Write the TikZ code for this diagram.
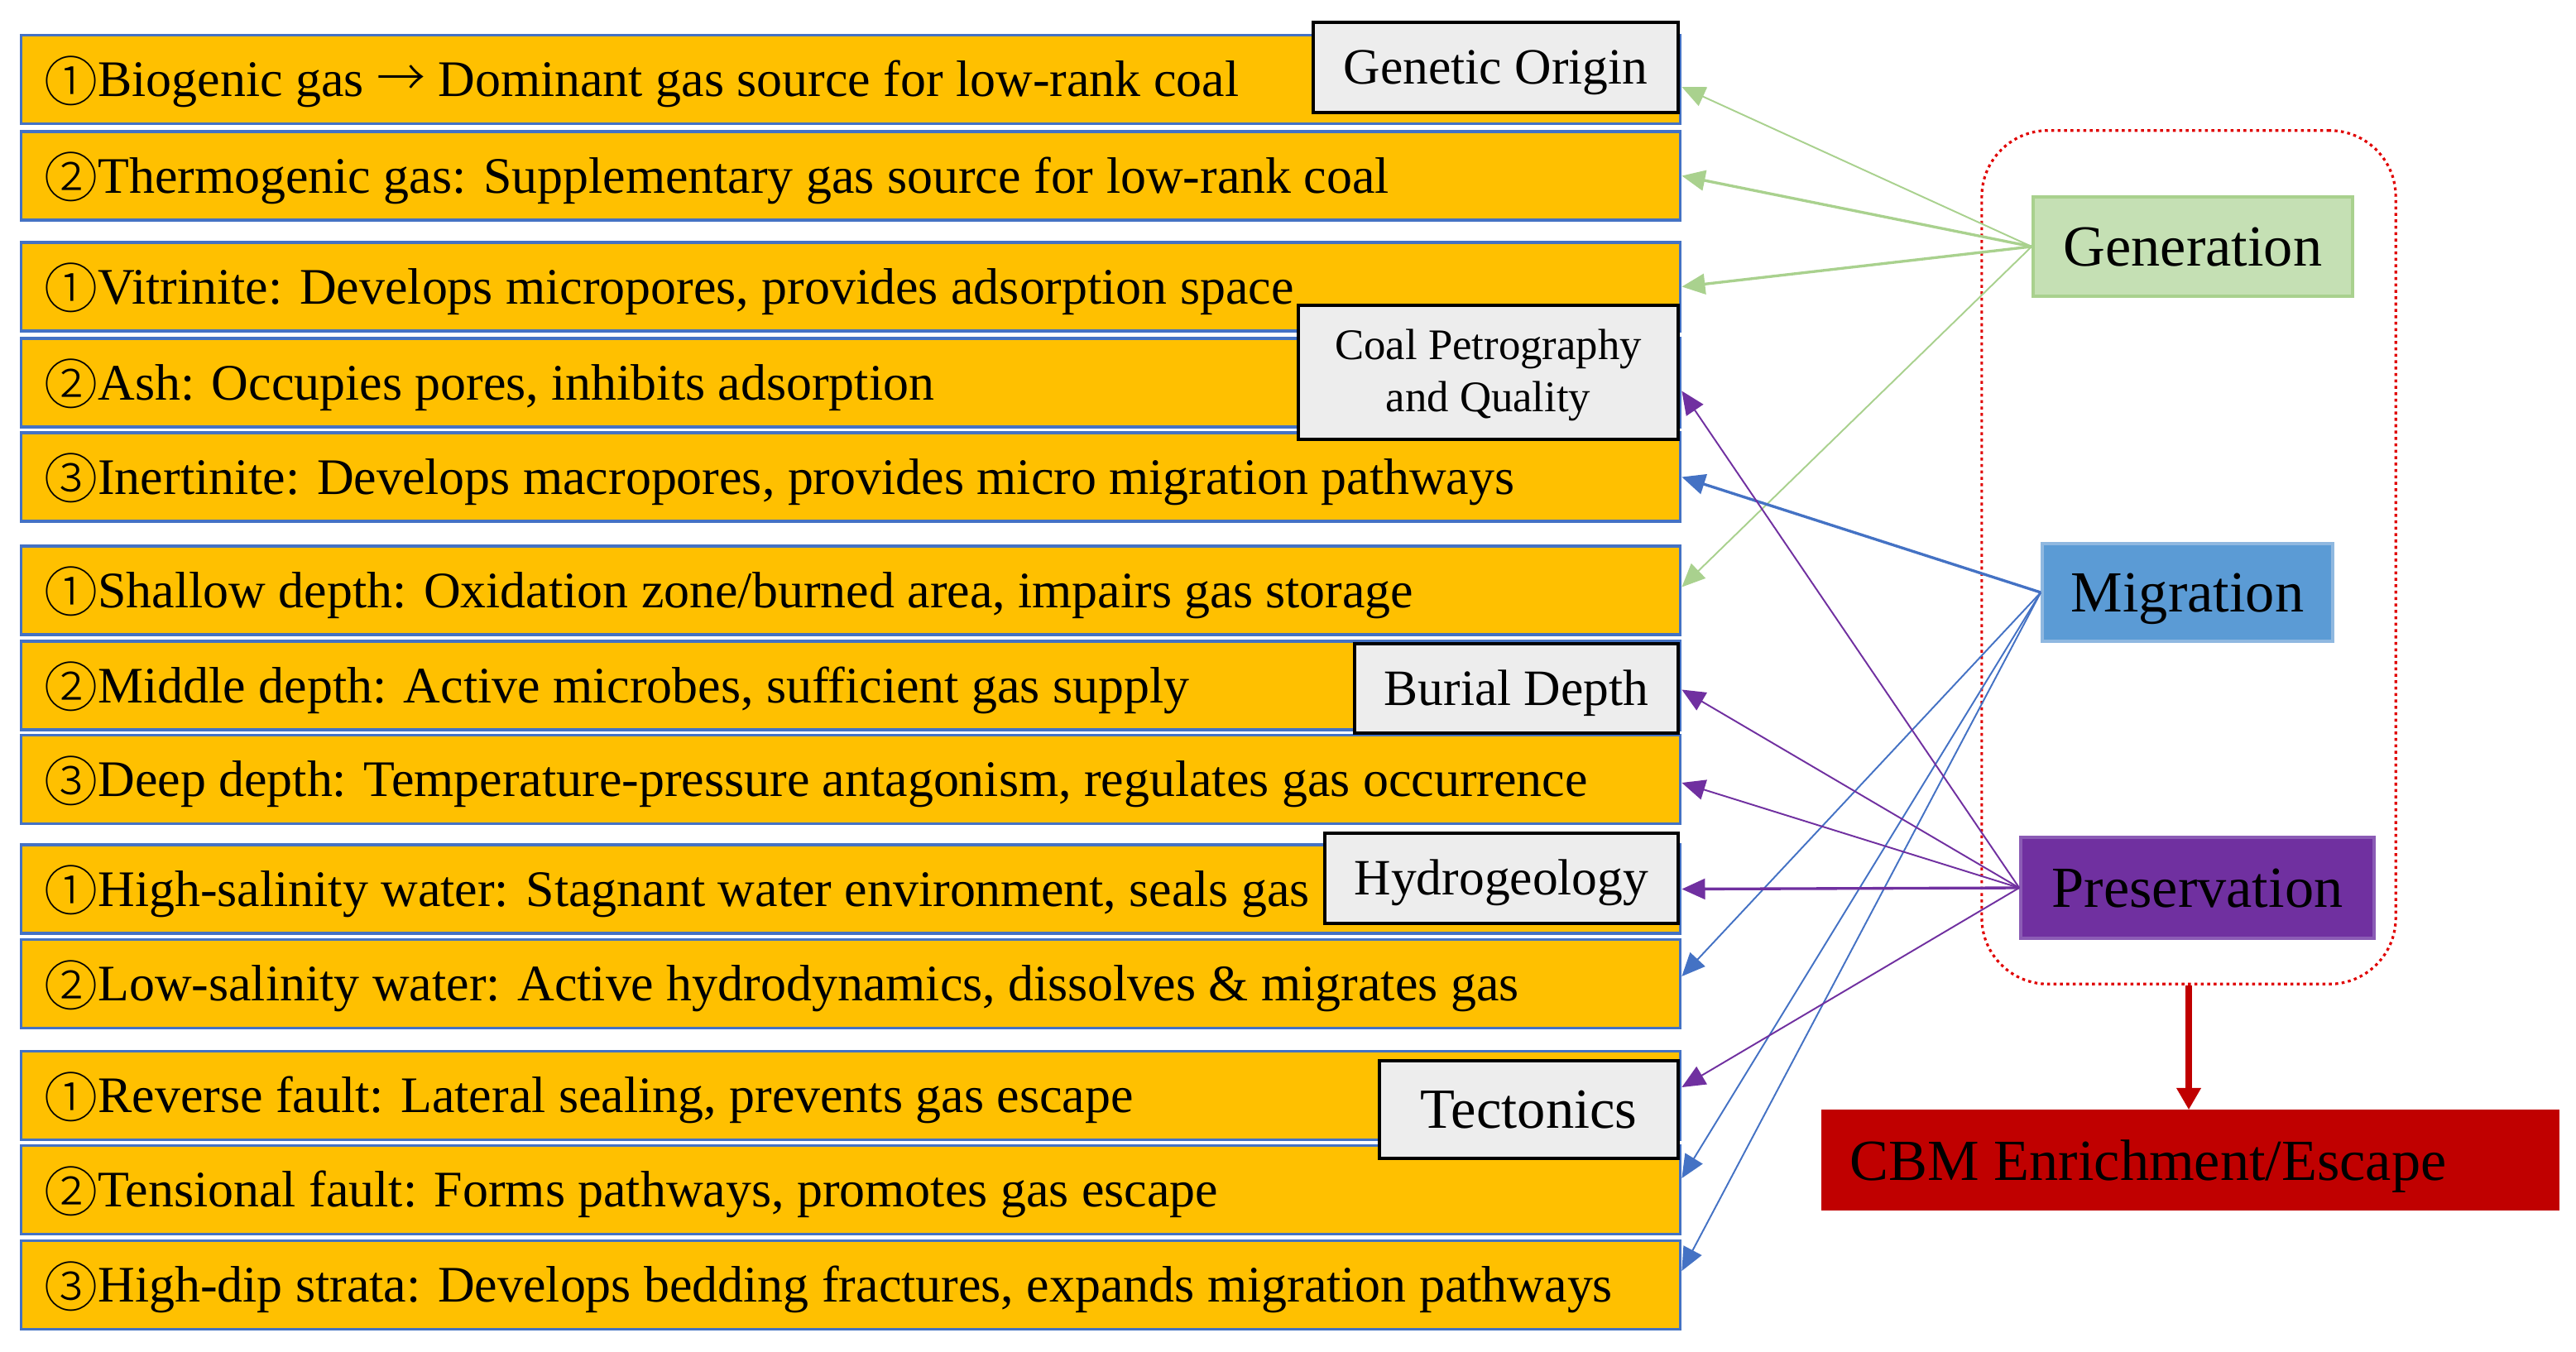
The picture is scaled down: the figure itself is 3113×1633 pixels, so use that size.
\documentclass[tikz,border=0pt]{standalone}
\usepackage{fontspec}
\usepackage{graphicx}
\setmainfont{Liberation Serif}
\newfontfamily\dejavu{DejaVu Sans}
\newfontfamily\cjk{Noto Sans CJK SC Light}
\usetikzlibrary{arrows.meta}
\definecolor{gold}{HTML}{FFC000}
\definecolor{boxblue}{HTML}{4472C4}
\definecolor{taggray}{HTML}{EDEDED}
\definecolor{arrgreen}{HTML}{A9D18E}
\definecolor{genfill}{HTML}{C5E0B4}
\definecolor{migfill}{HTML}{5B9BD5}
\definecolor{migline}{HTML}{8FB8E0}
\definecolor{presfill}{HTML}{7030A0}
\definecolor{presline}{HTML}{8B5BB5}
\definecolor{cbmred}{HTML}{C00000}
\definecolor{grpred}{HTML}{E00000}
\newcommand{\circnum}[1]{\raisebox{-0.09em}{\scalebox{1.05}{\cjk #1}}}
\newcommand{\longarrow}{\scalebox{0.95}[1]{\cjk →}}
\begin{document}
\begin{tikzpicture}[x=0.01cm,y=-0.01cm,
  factor/.style={draw=boxblue, line width=1pt, fill=gold, minimum width=20.04cm, minimum height=1.07cm, inner sep=0pt},
  ftext/.style={anchor=base west, inner sep=0pt, font=\fontsize{17.6}{21}\selectfont},
  tagbox/.style={draw=black, line width=1.1pt, fill=taggray, inner sep=0pt, align=center},
  tagtext/.style={inner sep=0pt, anchor=base, font=\fontsize{15}{18}\selectfont},
  mainbox/.style={inner sep=0pt, line width=1pt, text height=17.2pt, text depth=4pt, font=\fontsize{20}{24}\selectfont},
  tip/.style={-{Triangle[length=8pt,width=7pt]}},
  garrow/.style={tip, draw=arrgreen, line width=0.55pt},
  barrow/.style={tip, draw=boxblue, line width=0.55pt},
  parrow/.style={tip, draw=presfill, line width=0.55pt},
  heavy/.style={line width=0.95pt}
]
\useasboundingbox (0,0) rectangle (3113,1633);

% factor boxes
\node[factor] (b1) at (1028,96) {};
\node[factor] (b2) at (1028,212.5) {};
\node[factor] (b3) at (1028,346.5) {};
\node[factor] (b4) at (1028,462.5) {};
\node[factor] (b5) at (1028,576.5) {};
\node[factor] (b6) at (1028,713.5) {};
\node[factor] (b7) at (1028,828.5) {};
\node[factor] (b8) at (1028,942) {};
\node[factor] (b9) at (1028,1074.5) {};
\node[factor] (b10) at (1028,1189) {};
\node[factor] (b11) at (1028,1324) {};
\node[factor] (b12) at (1028,1438) {};
\node[factor] (b13) at (1028,1553) {};

% factor texts
\node[ftext] (t1) at ([xshift=0.29cm,yshift=-0.205cm]b1.west) {\circnum{①}Biogenic gas \longarrow{} Dominant gas source for low-rank coal};
\node[ftext] (t2) at ([xshift=0.29cm,yshift=-0.205cm]b2.west) {\circnum{②}Thermogenic gas: Supplementary gas source for low-rank coal};
\node[ftext] (t3) at ([xshift=0.29cm,yshift=-0.205cm]b3.west) {\circnum{①}Vitrinite: Develops micropores, provides adsorption space};
\node[ftext] (t4) at ([xshift=0.29cm,yshift=-0.205cm]b4.west) {\circnum{②}Ash: Occupies pores, inhibits adsorption};
\node[ftext] (t5) at ([xshift=0.29cm,yshift=-0.205cm]b5.west) {\circnum{③}Inertinite: Develops macropores, provides micro migration pathways};
\node[ftext] (t6) at ([xshift=0.29cm,yshift=-0.205cm]b6.west) {\circnum{①}Shallow depth: Oxidation zone/burned area, impairs gas storage};
\node[ftext] (t7) at ([xshift=0.29cm,yshift=-0.205cm]b7.west) {\circnum{②}Middle depth: Active microbes, sufficient gas supply};
\node[ftext] (t8) at ([xshift=0.29cm,yshift=-0.205cm]b8.west) {\circnum{③}Deep depth: Temperature-pressure antagonism, regulates gas occurrence};
\node[ftext] (t9) at ([xshift=0.29cm,yshift=-0.205cm]b9.west) {\circnum{①}High-salinity water: Stagnant water environment, seals gas};
\node[ftext] (t10) at ([xshift=0.29cm,yshift=-0.205cm]b10.west) {\circnum{②}Low-salinity water: Active hydrodynamics, dissolves \& migrates gas};
\node[ftext] (t11) at ([xshift=0.29cm,yshift=-0.205cm]b11.west) {\circnum{①}Reverse fault: Lateral sealing, prevents gas escape};
\node[ftext] (t12) at ([xshift=0.29cm,yshift=-0.205cm]b12.west) {\circnum{②}Tensional fault: Forms pathways, promotes gas escape};
\node[ftext] (t13) at ([xshift=0.29cm,yshift=-0.205cm]b13.west) {\circnum{③}High-dip strata: Develops bedding fractures, expands migration pathways};

% category tags
\node[tagbox, minimum width=4.41cm, minimum height=1.09cm, text height=15.6pt, text depth=4pt, font=\fontsize{17.5}{21}\selectfont] (lg) at (1807.5,81.5) {Genetic Origin};
\node[tagbox, minimum width=4.59cm, minimum height=1.62cm] (lc) at (1798.5,450) {};
\node[tagtext] (lc1) at ([yshift=0.15cm]lc.center) {Coal Petrography};
\node[tagtext] (lc2) at ([yshift=-0.47cm]lc.center) {and Quality};
\node[tagbox, minimum width=3.91cm, minimum height=1.08cm, text height=15.6pt, text depth=4pt, font=\fontsize{17.5}{21}\selectfont] (lb) at (1832.5,832) {Burial Depth};
\node[tagbox, minimum width=4.27cm, minimum height=1.09cm, text height=15.6pt, text depth=4pt, font=\fontsize{17.5}{21}\selectfont] (lh) at (1814.5,1061.5) {Hydrogeology};
\node[tagbox, minimum width=3.61cm, minimum height=1.18cm, text height=16.9pt, text depth=4pt, font=\fontsize{19.5}{23}\selectfont] (lt) at (1847.5,1341) {Tectonics};

% dotted group
\node[draw=grpred, line width=0.9pt, dash pattern=on 1pt off 1.2pt, rounded corners=0.8cm, minimum width=5cm, minimum height=10.31cm, inner sep=0pt] (grp) at (2645,673.5) {};

% right-side nodes
\node[mainbox, draw=arrgreen, fill=genfill, minimum width=3.86cm, minimum height=1.2cm] (gen) at (2650,298) {Generation};
\node[mainbox, draw=migline, fill=migfill, minimum width=3.51cm, minimum height=1.18cm] (mig) at (2643.5,716) {Migration};
\node[mainbox, draw=presline, fill=presfill, minimum width=4.27cm, minimum height=1.22cm] (pres) at (2655.5,1073) {Preservation};
\node[mainbox, draw=cbmred, fill=cbmred, minimum width=8.88cm, minimum height=1.18cm] (cbm) at (2647,1402) {};
\node[inner sep=0pt, anchor=base west, font=\fontsize{20}{24}\selectfont] (cbmt) at ([xshift=0.34cm,yshift=-0.24cm]cbm.west) {CBM Enrichment/Escape};

% connectors
\draw[garrow] (gen.west) -- ([yshift=-0.09cm]b1.east);
\draw[garrow, heavy] (gen.west) -- (b2.east);
\draw[garrow, heavy] (gen.west) -- (b3.east);
\draw[garrow] (gen.west) -- ([yshift=0.04cm]b6.east);

\draw[barrow, heavy] (mig.west) -- (b5.east);
\draw[barrow] (mig.west) -- ([yshift=0.09cm]b10.east);
\draw[barrow] (mig.west) -- ([yshift=0.14cm]b12.east);
\draw[barrow] (mig.west) -- ([yshift=0.17cm]b13.east);

\draw[parrow] (pres.west) -- ([yshift=-0.10cm]b4.east);
\draw[parrow] (pres.west) -- ([yshift=-0.05cm]b7.east);
\draw[parrow] (pres.west) -- ([yshift=-0.04cm]b8.east);
\draw[parrow, heavy] (pres.west) -- (b9.east);
\draw[parrow] (pres.west) -- ([yshift=0.10cm]b11.east);

\draw[draw=cbmred, line width=2.4pt, -{Triangle[length=7.5pt,width=8pt]}] (grp.south) -- (grp.south |- cbm.north);
\end{tikzpicture}
\end{document}
